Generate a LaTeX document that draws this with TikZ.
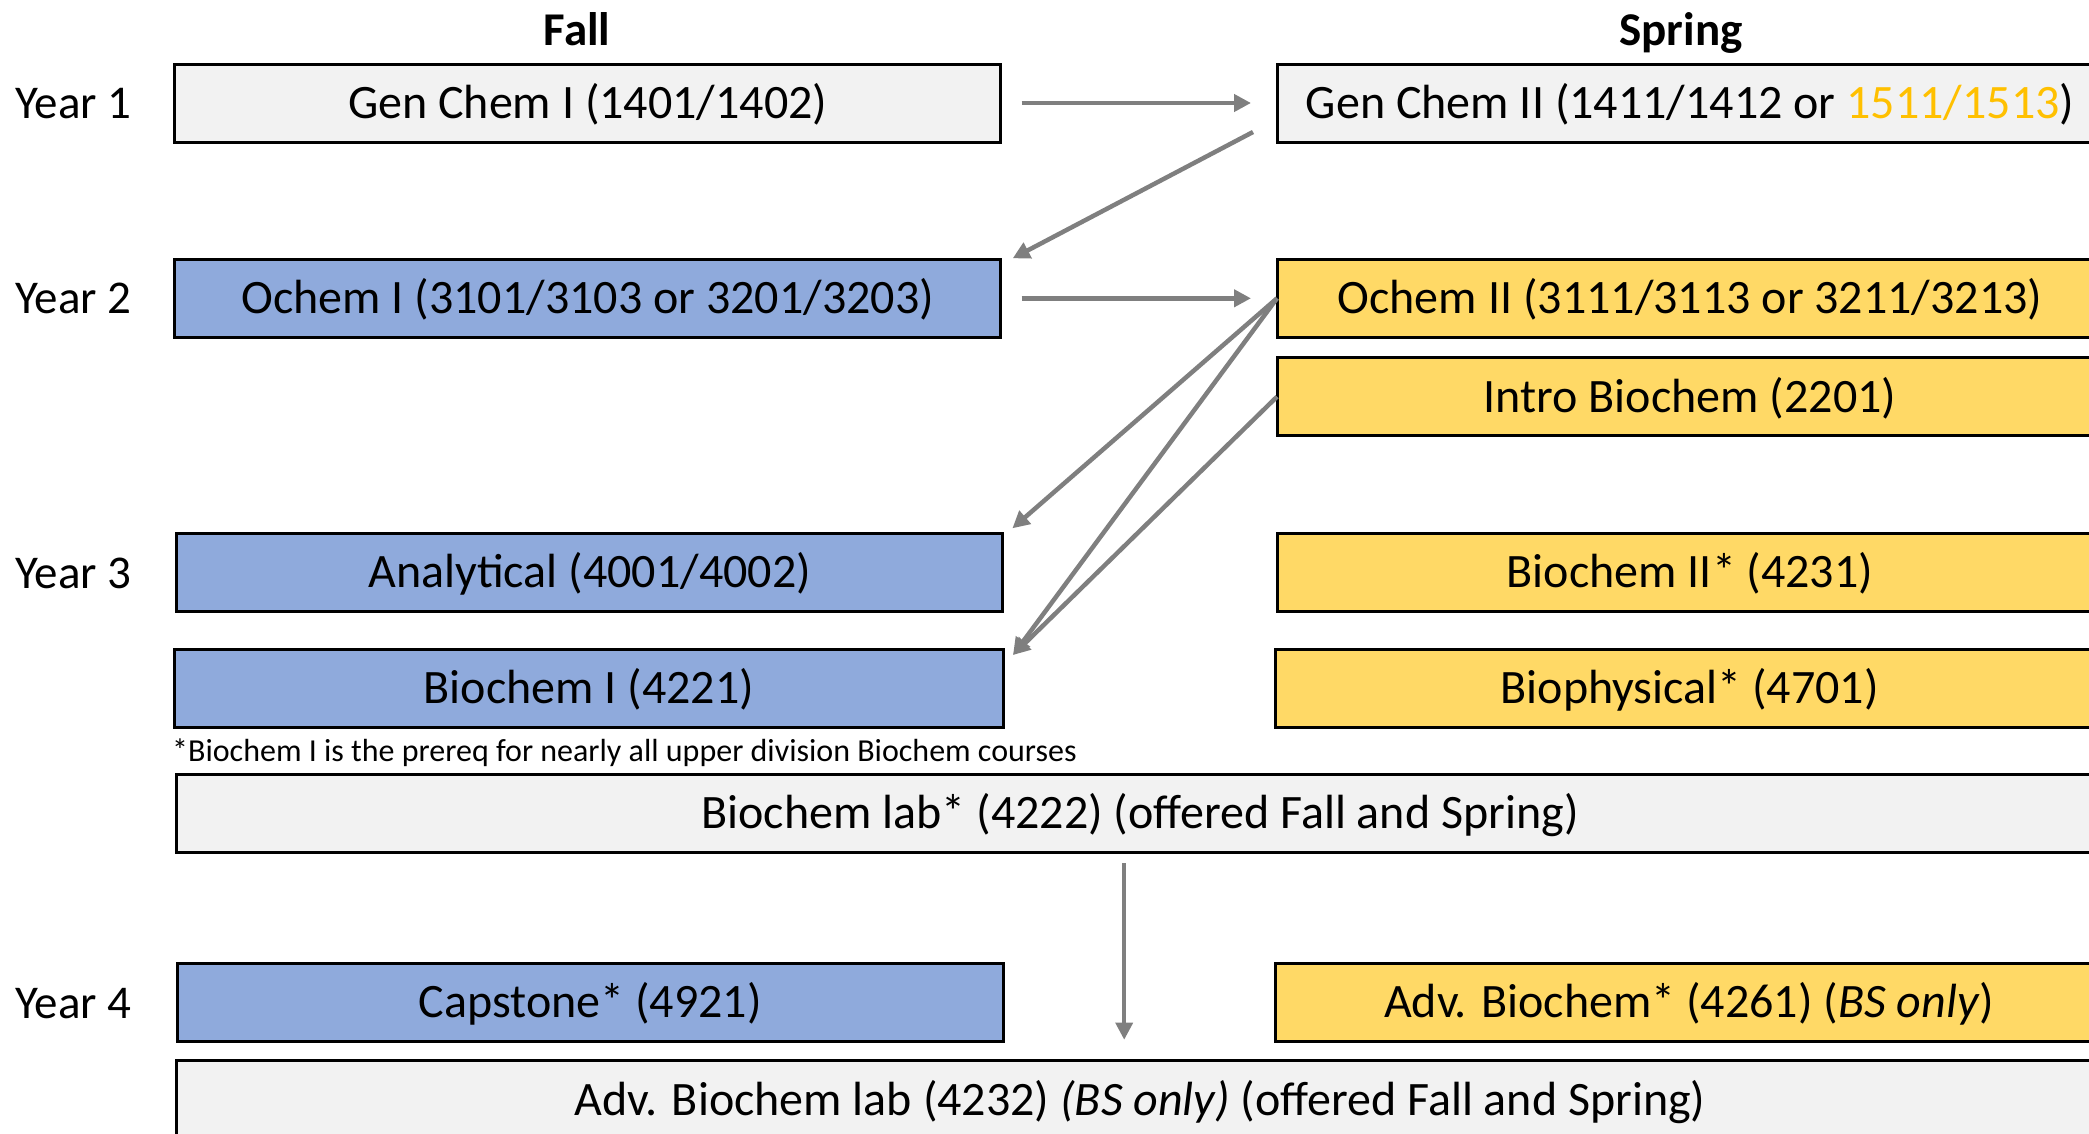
\documentclass[tikz,border=0pt]{standalone}
\usepackage{fontspec}
\setmainfont{Carlito}
\usetikzlibrary{arrows.meta,calc}
\definecolor{boxgray}{HTML}{F2F2F2}
\definecolor{boxblue}{HTML}{8FAADC}
\definecolor{boxyellow}{HTML}{FFD966}
\definecolor{arrgray}{HTML}{7F7F7F}
\definecolor{numorange}{HTML}{FFC000}
\begin{document}
\begin{tikzpicture}[x=1pt,y=-1pt,
  course/.style={draw=black, line width=3pt, minimum height=78pt, minimum width=826pt,
    inner sep=0pt, outer sep=0pt, anchor=north west, text height=35pt, text depth=4pt,
    font=\fontsize{48}{57}\selectfont},
  graybox/.style={course, fill=boxgray},
  bluebox/.style={course, fill=boxblue},
  yellowbox/.style={course, fill=boxyellow},
  yearlabel/.style={anchor=base west, inner sep=0pt, font=\fontsize{47}{56}\selectfont},
  header/.style={anchor=base, inner sep=0pt, font=\fontsize{47}{56}\selectfont\bfseries},
  conn/.style={draw=arrgray, line width=4.5pt, -{Triangle[length=17pt,width=17pt]}}]
\useasboundingbox (0,0) rectangle (2089,1133);

% headers
\node[header] (fall) at (577,45) {Fall};
\node[header] (spring) at (1681,45) {Spring};

% year labels
\node[yearlabel] (y1) at (15,118.3) {Year 1};
\node[yearlabel] (y2) at (15,313.3) {Year 2};
\node[yearlabel] (y3) at (15,588.3) {Year 3};
\node[yearlabel] (y4) at (15,1018.3) {Year 4};

% courses
\node[graybox] (gc1) at (174.7,64) {Gen Chem I (1401/1402)};
\node[graybox] (gc2) at (1277,64) {Gen Chem II (1411/1412 or \textcolor{numorange}{1511/1513})};
\node[bluebox] (o1) at (174.7,259.3) {Ochem I (3101/3103 or 3201/3203)};
\node[yellowbox] (o2) at (1277,259.3) {Ochem II (3111/3113 or 3211/3213)};
\node[yellowbox] (ib) at (1277,357.7) {Intro Biochem (2201)};
\node[bluebox] (an) at (176.7,533.3) {Analytical (4001/4002)};
\node[yellowbox] (b2) at (1277,533.3) {Biochem II* (4231)};
\node[bluebox, minimum width=828.6pt] (b1) at (174.7,649) {Biochem I (4221)};
\node[yellowbox, minimum width=828.6pt] (bp) at (1275.4,649) {Biophysical* (4701)};
\node[anchor=base west, inner sep=0pt, font=\fontsize{32}{38}\selectfont] (note) at (172,761.7)
  {*Biochem I is the prereq for nearly all upper division Biochem courses};
\node[graybox, minimum width=1927pt] (lab) at (176.7,774) {Biochem lab* (4222) (offered Fall and Spring)};
\node[bluebox] (cap) at (177.2,963.3) {Capstone* (4921)};
\node[yellowbox, minimum width=828.6pt] (ab) at (1275,963.3) {Adv. Biochem* (4261) (\textit{BS only})};
\node[graybox, minimum width=1927pt] (alab) at (176.7,1060.7) {Adv. Biochem lab (4232) \textit{(BS only)} (offered Fall and Spring)};

% connectors
\draw[conn, shorten <=21pt, shorten >=26pt] (gc1.east) -- (gc2.west);
\draw[conn] ($(gc2.west)+(-24,29)$) -- ($(o1.north east)+(12,-1)$);
\draw[conn, shorten <=21pt, shorten >=26pt] (o1.east) -- (o2.west);
\draw[conn] (o2.west) -- ($(an.north east)+(9.7,-5)$);
\draw[conn] (o2.west) -- ($(b1.north east)+(9.7,6)$);
\draw[conn] (ib.west) -- ($(b1.north east)+(9.7,6)$);
\draw[conn, line width=3.5pt] ($(lab.south)+(-16,11)$) -- ($(alab.north)+(-16,-21)$);
\end{tikzpicture}
\end{document}
